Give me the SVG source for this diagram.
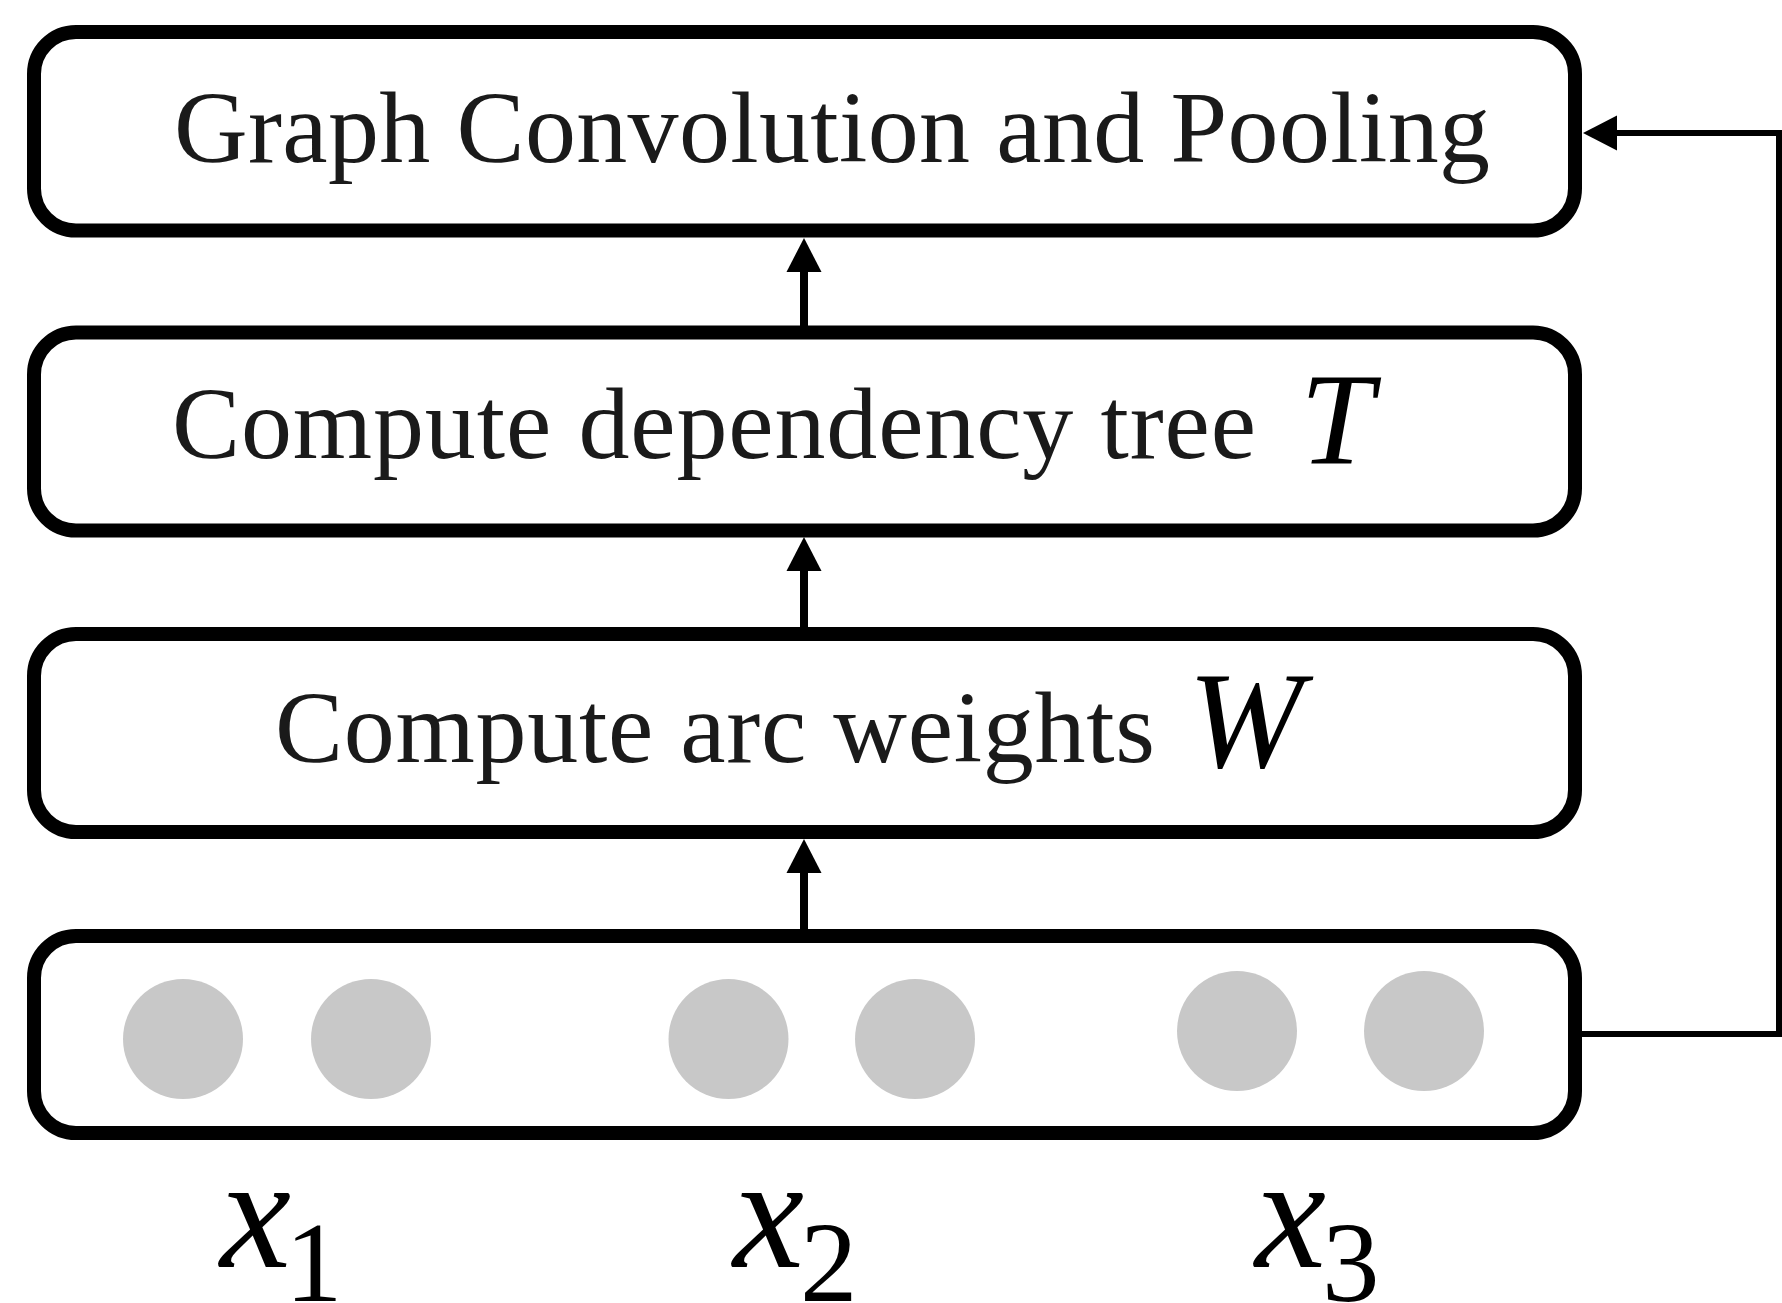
<svg xmlns="http://www.w3.org/2000/svg" width="1782" height="1303" viewBox="0 0 1782 1303">
  <style>
    .box { fill: #ffffff; stroke: #000000; stroke-width: 14; }
    .lbl { font-family: "Liberation Serif", "DejaVu Serif", serif; font-size: 102px; fill: #1a1a1a; }
    .math { font-family: "Liberation Serif", "DejaVu Serif", serif; font-style: italic; fill: #000000; }
    .sub { font-family: "Liberation Serif", "DejaVu Serif", serif; fill: #000000; font-size: 115px; }
    .dot { fill: #c8c8c8; }
    .conn { fill: none; stroke: #000000; }
  </style>
  <defs>
    <marker id="head" markerUnits="userSpaceOnUse" markerWidth="34" markerHeight="36" refX="0" refY="17.5" orient="auto" viewBox="0 0 34 35">
      <path d="M0,0 L34,17.5 L0,35 Z" fill="#000000"/>
    </marker>
  </defs>
  <rect width="1782" height="1303" fill="#ffffff"/>

  <g id="node-gcn">
    <rect class="box" x="34" y="32" width="1541" height="198.5" rx="42" ry="42"/>
    <text class="lbl" x="174" y="162" textLength="1316" lengthAdjust="spacing">Graph Convolution and Pooling</text>
  </g>

  <g id="node-tree">
    <rect class="box" x="34" y="332.5" width="1541" height="198" rx="42" ry="42"/>
    <text class="lbl" x="172" y="458" textLength="1084" lengthAdjust="spacing">Compute dependency tree</text>
    <text class="math" x="1300" y="464" font-size="132">T</text>
  </g>

  <g id="node-weights">
    <rect class="box" x="34" y="634" width="1541" height="198" rx="42" ry="42"/>
    <text class="lbl" x="275" y="762" textLength="880" lengthAdjust="spacing">Compute arc weights</text>
    <text class="math" x="1188" y="767" font-size="138">W</text>
  </g>

  <g id="node-input">
    <rect class="box" x="34" y="936" width="1541" height="197" rx="42" ry="42"/>
    <circle class="dot" cx="183" cy="1039" r="60"/>
    <circle class="dot" cx="371" cy="1039" r="60"/>
    <circle class="dot" cx="728.5" cy="1039" r="60"/>
    <circle class="dot" cx="915" cy="1039" r="60"/>
    <circle class="dot" cx="1237" cy="1031" r="60"/>
    <circle class="dot" cx="1424" cy="1031" r="60"/>
  </g>

  <g id="label-x1">
    <text class="math" x="220" y="1267" font-size="160">x</text>
    <text class="sub" x="285" y="1301">1</text>
  </g>
  <g id="label-x2">
    <text class="math" x="733" y="1267" font-size="160">x</text>
    <text class="sub" x="800" y="1301">2</text>
  </g>
  <g id="label-x3">
    <text class="math" x="1255" y="1267" font-size="160">x</text>
    <text class="sub" x="1322" y="1301">3</text>
  </g>

  <g id="connectors">
    <line class="conn" stroke-width="8" x1="804" y1="332" x2="804" y2="272" marker-end="url(#head)"/>
    <line class="conn" stroke-width="8" x1="804" y1="634" x2="804" y2="571" marker-end="url(#head)"/>
    <line class="conn" stroke-width="8" x1="804" y1="936" x2="804" y2="873" marker-end="url(#head)"/>
    <polyline class="conn" stroke-width="6" points="1581,1034 1779,1034 1779,133 1617,133" marker-end="url(#head)"/>
  </g>
</svg>
